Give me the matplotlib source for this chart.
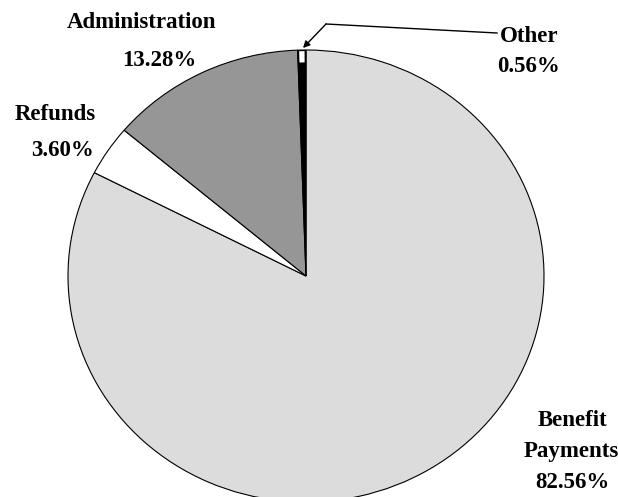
import matplotlib.pyplot as plt
from matplotlib.patches import Wedge, FancyArrowPatch

# spending shares, clockwise from 12 o'clock
labels = ["Benefit\nPayments", "Refunds", "Administration", "Other"]
values = [82.56, 3.60, 13.28, 0.56]
colors = ["#dcdcdc", "#ffffff", "#969696", "#000000"]

W, H = 618, 497
fig = plt.figure(figsize=(W / 100, H / 100), dpi=100)
fig.patch.set_facecolor("white")

# pie centre and radii in pixels (slightly wider than tall)
cx, cy, rx, ry = 306, 276, 238, 226
ax = fig.add_axes([(cx - rx) / W, (H - cy - ry) / H, 2 * rx / W, 2 * ry / H])

wedges, _ = ax.pie(values, colors=colors, startangle=90, counterclock=False,
                   wedgeprops=dict(edgecolor="black", linewidth=0.8))
ax.set_aspect("auto")
ax.set_xlim(-1, 1)
ax.set_ylim(-1, 1)
ax.axis("off")

# the tiny "Other" slice: black with a white tip near the rim
w = wedges[3]
ax.add_patch(Wedge((0, 0), 0.995, w.theta1 + 0.35, w.theta2 - 0.35,
                   width=0.05, facecolor="white", edgecolor="none"))

font = dict(family="Liberation Serif", fontweight="bold", fontsize=16.5,
            ha="center", va="center")

def px(x, y):
    return x / W, 1 - y / H

# label name / percentage positions in pixels
label_pos = {
    "Benefit\nPayments": [(572, 421), (571, 451), (572, 482)],
    "Refunds": [(55, 114), (63, 150)],
    "Administration": [(142, 23), (159, 61)],
    "Other": [(529, 37), (529, 67)],
}
for lab, v in zip(labels, values):
    pos = label_pos[lab]
    lines = lab.split("\n") + ["%.2f%%" % v]
    for text, (x, y) in zip(lines, pos):
        fig.text(*px(x, y), text, **font)

# leader line for "Other"
lx, ly = px(497, 33)
mx, my = px(326, 24)
tx, ty = px(303, 48)
fig.add_artist(plt.Line2D([lx, mx], [ly, my], transform=fig.transFigure,
                          color="black", linewidth=1.0))
fig.add_artist(FancyArrowPatch(
    (mx, my), (tx, ty), transform=fig.transFigure, arrowstyle="-|>",
    mutation_scale=10, color="black", linewidth=1.0, shrinkA=0, shrinkB=0))

fig.savefig("out.png", dpi=100)
